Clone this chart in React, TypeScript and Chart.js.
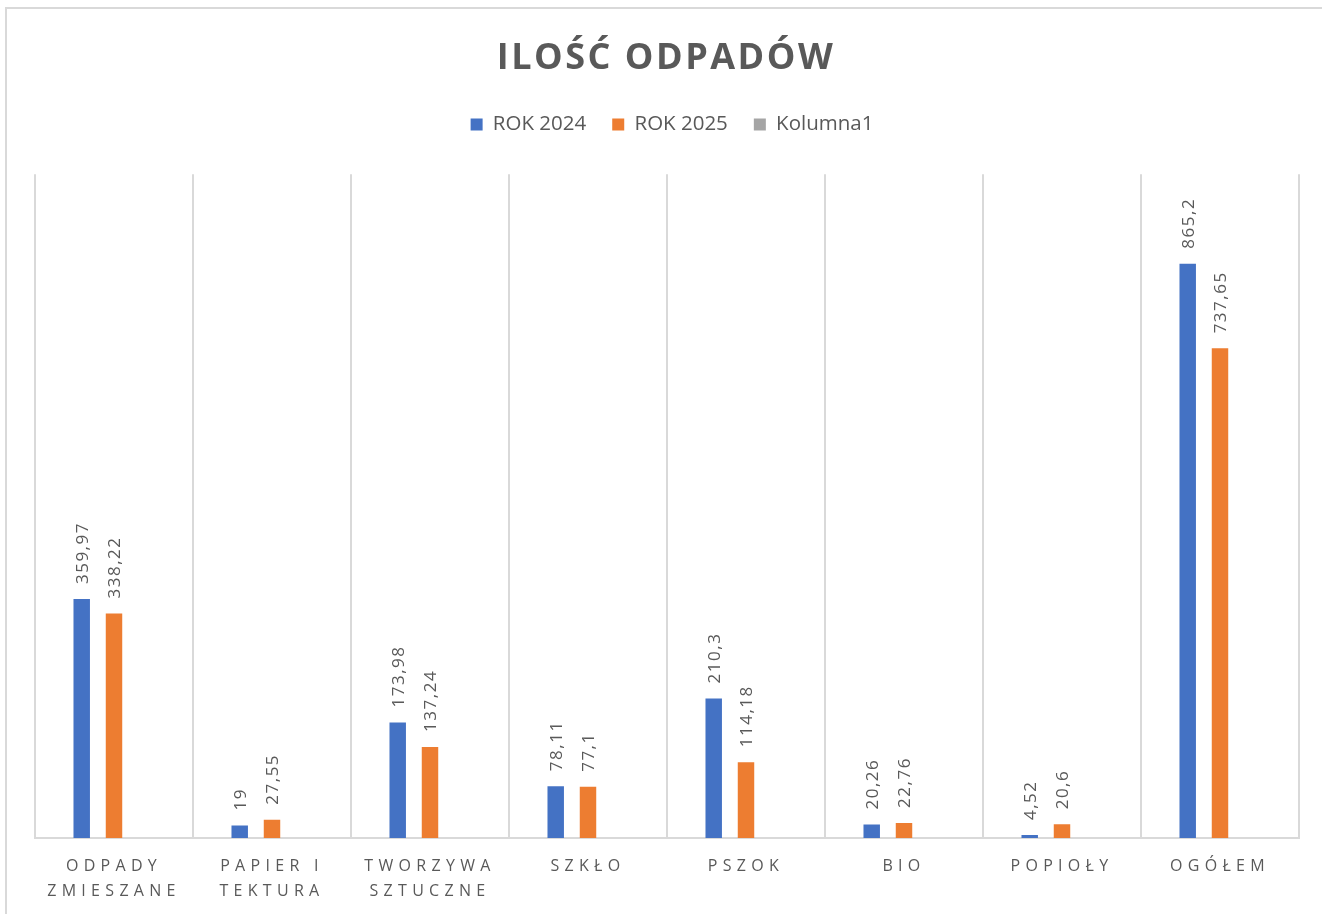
import React, { useEffect, useRef } from 'react';
import { Chart, registerables } from 'chart.js';

Chart.register(...registerables);

// ---- data ----
const categories: (string | string[])[] = [
  ['ODPADY', 'ZMIESZANE'],
  ['PAPIER I', 'TEKTURA'],
  ['TWORZYWA', 'SZTUCZNE'],
  'SZKŁO',
  'PSZOK',
  'BIO',
  'POPIOŁY',
  'OGÓŁEM',
];
const rok2024 = [359.97, 19, 173.98, 78.11, 210.3, 20.26, 4.52, 865.2];
const rok2025 = [338.22, 27.55, 137.24, 77.1, 114.18, 22.76, 20.6, 737.65];
const kolumna1: (number | null)[] = [null, null, null, null, null, null, null, null];
const seriesNames = ['ROK 2024', 'ROK 2025', 'Kolumna1'];
const chartTitle = 'ILOŚĆ ODPADÓW';
const yMin = 0;
const yMax = 1000;

// ---- styles ----
const FONT = "'Open Sans', 'Noto Sans', 'DejaVu Sans', sans-serif";
const TEXT = '#595959';
const GRID = '#d9d9d9';
const COLORS = ['#4472C4', '#ED7D31', '#A5A5A5'];

const excelPlugin = {
  id: 'excelStyle',
  beforeLayout(chart: any) {
    const lg = chart.legend;
    if (lg && !lg.__patched) {
      const fit = lg.fit.bind(lg);
      lg.fit = function () {
        fit();
        this.height += 29.5;
      };
      const draw = lg.draw.bind(lg);
      lg.draw = function (area: any) {
        const ctx = chart.ctx;
        ctx.save();
        ctx.translate(5, 0);
        draw(area);
        ctx.restore();
      };
      lg.__patched = true;
    }
  },
  beforeDraw(chart: any) {
    const ctx = chart.ctx;
    const tb = chart.titleBlock;
    if (tb && !tb.__patched) {
      const d = tb.draw.bind(tb);
      tb.draw = function (area: any) {
        ctx.save();
        ctx.letterSpacing = '2.5px';
        ctx.translate(-1, 0);
        d(area);
        ctx.restore();
      };
      tb.__patched = true;
    }
    const xs = chart.scales.x;
    if (xs && !xs.__patched) {
      const d = xs.drawLabels.bind(xs);
      xs.drawLabels = function (area: any) {
        ctx.save();
        ctx.letterSpacing = '5.3px';
        d(area);
        ctx.restore();
      };
      xs.__patched = true;
    }
  },
  afterDatasetsDraw(chart: any) {
    const ctx = chart.ctx;
    [0, 1].forEach((di) => {
      const meta = chart.getDatasetMeta(di);
      const data = chart.data.datasets[di].data;
      meta.data.forEach((el: any, i: number) => {
        const v = data[i];
        if (v == null) return;
        const txt = String(v).replace('.', ',');
        ctx.save();
        ctx.translate(el.x + 1, el.y - 15);
        ctx.rotate(-Math.PI / 2);
        ctx.font = `17px ${FONT}`;
        ctx.letterSpacing = '1.5px';
        ctx.fillStyle = TEXT;
        ctx.textAlign = 'left';
        ctx.textBaseline = 'middle';
        ctx.fillText(txt, 0, 0);
        ctx.restore();
      });
    });
  },
};

export default function App() {
  const ref = useRef<HTMLCanvasElement | null>(null);

  useEffect(() => {
    document.documentElement.style.overflow = 'hidden';
    document.body.style.overflow = 'hidden';
    if (!ref.current) return;
    const chart = new Chart(ref.current, {
      type: 'bar',
      data: {
        labels: categories as any,
        datasets: [
          { label: seriesNames[0], data: rok2024, backgroundColor: COLORS[0], borderWidth: 0 },
          { label: seriesNames[1], data: rok2025, backgroundColor: COLORS[1], borderWidth: 0 },
          { label: seriesNames[2], data: kolumna1 as any, backgroundColor: COLORS[2], borderWidth: 0 },
        ],
      },
      options: {
        animation: false,
        responsive: false,
        devicePixelRatio: 1,
        layout: { padding: { left: 28, right: 23, top: 0, bottom: 10 } },
        datasets: {
          bar: { categoryPercentage: 0.613, barPercentage: 0.51 },
        },
        plugins: {
          title: {
            display: true,
            text: chartTitle,
            color: TEXT,
            font: { family: FONT, size: 36, weight: 'bold', lineHeight: 1.2 },
            padding: { top: 28, bottom: 8 },
          },
          legend: {
            display: true,
            position: 'top',
            labels: {
              color: TEXT,
              font: { family: FONT, size: 20.5 },
              boxWidth: 12,
              boxHeight: 12,
              padding: 26,
            },
          },
          tooltip: { enabled: false },
        },
        scales: {
          x: {
            grid: {
              display: true,
              offset: true,
              color: GRID,
              lineWidth: 2,
              drawTicks: false,
            },
            border: { display: true, color: GRID, width: 2 },
            ticks: {
              color: TEXT,
              font: { family: FONT, size: 16, lineHeight: 1.5625 },
              padding: 16,
              maxRotation: 0,
              autoSkip: false,
            },
            afterFit: (scale: any) => {
              scale.height = 66;
            },
          },
          y: {
            display: false,
            min: yMin,
            max: yMax,
          },
        },
      },
      plugins: [excelPlugin as any],
    });
    return () => chart.destroy();
  }, []);

  return (
    <div
      style={{
        position: 'absolute',
        left: 5,
        top: 7,
        width: 1315,
        height: 905,
        border: '2px solid #d9d9d9',
        background: '#ffffff',
      }}
    >
      <canvas ref={ref} width={1315} height={905} style={{ display: 'block', width: 1315, height: 905 }} />
    </div>
  );
}
